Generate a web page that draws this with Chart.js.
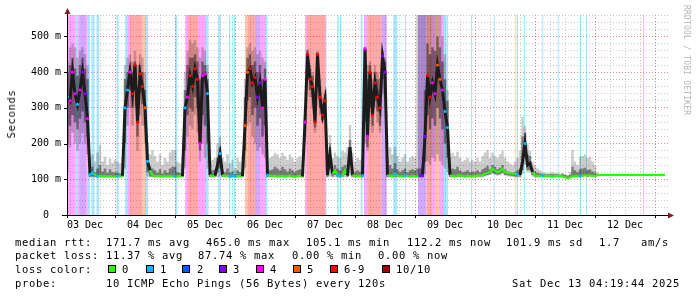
<!DOCTYPE html>
<html>
<head>
<meta charset="utf-8">
<script src="https://cdn.jsdelivr.net/npm/chart.js@4/dist/chart.umd.min.js"></script>
<style>
  html, body { margin: 0; padding: 0; background: #fff; }
  #wrap { position: relative; width: 697px; height: 297px; overflow: hidden; }
  #chart { position: absolute; left: 0; top: 0; }
  .t { position: absolute; font-family: 'DejaVu Sans Mono', monospace; font-size: 10.5px;
       letter-spacing: 0.68px; line-height: 12px; white-space: pre; color: #000; }
  .box { position: absolute; width: 6px; height: 6px; border: 1px solid #000; top: 265px; }
  #ylab { left: 11px; top: 114px; transform: translate(-50%, -50%) rotate(-90deg); }
  #mark { position: absolute; left: 681px; top: 5px; writing-mode: vertical-rl;
          font-family: 'DejaVu Sans Mono', monospace; font-size: 8px; letter-spacing: 0.2px;
          color: #b4b4b4; white-space: pre; line-height: 10px; }
</style>
</head>
<body>
<div id="wrap">
  <canvas id="chart" width="697" height="297"></canvas>
  <div class="t" id="ylab">Seconds</div>
  <div id="mark">RRDTOOL / TOBI OETIKER</div>

  <div class="t" style="left:15px;top:236px">median rtt:</div>
  <div class="t" style="left:106px;top:236px">171.7 ms avg</div>
  <div class="t" style="left:206px;top:236px">465.0 ms max</div>
  <div class="t" style="left:306px;top:236px">105.1 ms min</div>
  <div class="t" style="left:407px;top:236px">112.2 ms now</div>
  <div class="t" style="left:506px;top:236px">101.9 ms sd</div>
  <div class="t" style="left:599px;top:236px">1.7</div>
  <div class="t" style="left:641px;top:236px">am/s</div>

  <div class="t" style="left:15px;top:249px">packet loss:</div>
  <div class="t" style="left:106px;top:249px">11.37 % avg</div>
  <div class="t" style="left:198px;top:249px">87.74 % max</div>
  <div class="t" style="left:292px;top:249px">0.00 % min</div>
  <div class="t" style="left:378px;top:249px">0.00 % now</div>

  <div class="t" style="left:15px;top:263px">loss color:</div>
  <div class="box" style="left:108px;background:#26ff00"></div><div class="t" style="left:122px;top:263px">0</div>
  <div class="box" style="left:146px;background:#00b8ff"></div><div class="t" style="left:160px;top:263px">1</div>
  <div class="box" style="left:182px;background:#0059ff"></div><div class="t" style="left:197px;top:263px">2</div>
  <div class="box" style="left:219px;background:#7e00ff"></div><div class="t" style="left:233px;top:263px">3</div>
  <div class="box" style="left:256px;background:#ff00ff"></div><div class="t" style="left:270px;top:263px">4</div>
  <div class="box" style="left:293px;background:#ff5500"></div><div class="t" style="left:307px;top:263px">5</div>
  <div class="box" style="left:330px;background:#ff0000"></div><div class="t" style="left:344px;top:263px">6-9</div>
  <div class="box" style="left:382px;background:#a10000"></div><div class="t" style="left:396px;top:263px">10/10</div>

  <div class="t" style="left:15px;top:277px">probe:</div>
  <div class="t" style="left:106px;top:277px">10 ICMP Echo Pings (56 Bytes) every 120s</div>
  <div class="t" style="left:512px;top:277px">Sat Dec 13 04:19:44 2025</div>
</div>

<script>
// hours counted from 03 Dec 00:00, one sample per hour starting at 05:00
const firstHour = 5;

const dayLabels = ['03 Dec', '04 Dec', '05 Dec', '06 Dec', '07 Dec', '08 Dec', '09 Dec', '10 Dec', '11 Dec', '12 Dec'];

// median rtt (ms)
const median = [
  330,320,400,340,310,350,400,340,270,114,118,112,109,110,108,109,108,109,108,             // 03 Dec
  108,109,108,110,300,350,400,340,420,260,395,360,300,150,125,112,108,110,109,108,110,108,109,108, // 04
  109,108,110,109,300,330,390,360,410,380,200,390,395,340,112,109,110,140,172,112,110,109,108,110, // 05
  109,108,110,109,250,400,410,370,385,330,370,300,380,112,110,109,110,108,109,110,108,109,110,108, // 06
  108,109,110,108,260,450,380,360,260,450,330,280,320,112,170,115,125,112,109,110,125,110,190,112, // 07
  110,109,108,110,465,220,400,280,370,330,300,445,400,112,110,108,115,110,109,108,110,109,108,109, // 08
  109,108,110,110,220,390,330,370,340,420,380,350,290,245,112,109,108,110,112,109,108,110,109,108, // 09
  110,111,110,112,116,118,120,130,125,120,122,130,120,118,117,116,115,113,112,150,200,140,145,120, // 10
  112,110,109,110,109,110,109,108,109,110,109,108,106,104,105,108,109,110,109,110,112,110,111,110, // 11
  110,111,112,112,112,112,112,112,112,112,112,112,112,112,112,112,112,112,112,112,112,112,112,112, // 12
  112,112,112,112,112                                                                       // 13
];

// smoke: highest / lowest ping
const smokeMax = [
  430,470,480,470,440,460,470,450,420,160,170,150,175,196,150,163,140,158,146,
  154,150,145,160,420,440,450,430,460,420,450,440,400,200,170,182,165,150,170,140,160,150,175,182,
  182,150,145,160,400,460,490,480,490,470,440,470,460,420,150,155,160,200,219,160,150,170,145,155,
  130,160,150,165,380,470,480,460,470,450,460,440,430,150,160,165,174,170,160,174,165,155,170,160,
  150,160,165,155,300,465,420,400,330,460,380,330,350,140,224,160,175,165,160,180,175,190,252,175,
  150,160,155,165,470,420,430,380,420,400,380,460,440,160,190,170,191,165,150,160,170,150,160,165,
  160,600,600,600,600,600,600,600,600,600,600,500,450,350,160,174,165,177,160,150,155,160,150,155,
  150,160,150,165,175,182,160,175,165,160,170,180,160,150,145,140,150,160,180,275,250,200,180,150,
  140,130,125,120,118,117,118,120,118,117,116,118,115,112,120,182,150,140,163,165,170,160,163,150,
  140,120,112,112,112,112,112,112,112,112,112,112,112,112,112,112,112,112,112,112,112,112,112,112,
  112,112,112,112,112
];
const smokeMin = [
  120,190,230,200,180,200,230,200,170,105,106,105,105,105,104,105,105,105,105,
  105,105,105,105,130,250,300,250,300,180,280,250,200,108,105,105,105,105,105,105,105,105,105,105,
  105,105,105,105,130,220,250,240,280,230,150,200,160,130,105,105,105,106,108,105,105,105,105,105,
  105,105,105,105,130,250,260,220,200,180,190,170,160,105,105,105,105,105,105,105,105,105,105,105,
  105,105,105,105,200,380,330,300,230,380,280,260,270,105,108,105,106,105,105,105,106,105,110,105,
  105,105,105,105,200,180,300,230,300,260,230,340,300,105,105,105,106,105,105,105,105,105,105,105,
  105,105,105,105,115,150,140,160,150,170,150,140,130,120,105,105,105,105,105,105,105,105,105,105,
  105,105,105,106,108,110,112,115,112,110,112,115,110,108,107,106,105,105,105,115,140,120,120,108,
  106,105,105,105,105,105,105,104,105,105,105,104,103,101,102,105,105,106,105,106,108,106,107,106,
  106,108,112,112,112,112,112,112,112,112,112,112,112,112,112,112,112,112,112,112,112,112,112,112,
  112,112,112,112,112
];
// smoke: denser middle part
const smokeHi = [
  400,420,440,410,390,420,440,410,380,125,135,120,130,140,122,130,118,128,120,
  120,118,116,122,380,400,420,400,430,360,420,400,350,170,135,130,125,118,128,116,125,118,130,135,
  135,120,118,125,350,420,440,440,450,430,380,430,420,380,120,125,128,160,190,125,120,130,118,122,
  115,125,120,128,330,440,450,420,430,400,420,380,410,120,125,128,135,130,125,135,128,122,130,125,
  120,125,128,122,280,460,410,390,300,455,360,310,340,118,190,125,140,130,125,135,140,130,210,130,
  120,125,122,128,470,380,420,350,400,380,350,450,430,125,140,130,145,128,120,125,130,120,125,128,
  125,130,130,135,350,480,450,470,460,500,470,430,380,320,125,130,128,135,125,120,122,125,120,122,
  120,125,120,128,132,138,128,140,135,128,132,140,128,122,120,118,120,125,130,220,230,170,165,130,
  122,118,116,115,114,114,114,115,114,114,113,114,112,110,113,135,125,120,128,130,132,126,128,122,
  118,114,112,112,112,112,112,112,112,112,112,112,112,112,112,112,112,112,112,112,112,112,112,112,
  112,112,112,112,112
];
const smokeLo = [
  200,250,280,260,240,270,290,260,220,107,108,107,106,107,106,107,106,107,106,
  107,107,107,107,200,300,350,300,350,220,340,310,250,120,108,107,106,107,107,106,107,106,107,107,
  107,106,107,107,180,280,300,290,330,300,180,280,250,200,107,107,107,120,130,107,107,107,106,107,
  107,106,107,107,180,320,330,280,300,250,270,220,250,107,107,107,107,106,107,107,106,107,107,106,
  106,107,107,106,220,400,350,330,245,400,300,265,290,107,130,108,112,107,107,107,112,107,150,107,
  107,107,106,107,260,190,330,250,320,290,250,380,330,107,107,106,108,107,107,106,107,107,106,107,
  107,106,107,107,150,280,240,270,250,300,270,240,200,160,107,107,106,107,107,107,106,107,107,106,
  107,108,107,108,110,112,114,118,115,113,114,118,113,111,110,109,108,108,108,125,160,125,125,112,
  108,107,107,107,107,107,107,106,107,107,107,106,104,102,103,107,107,108,107,108,110,108,109,108,
  108,110,112,112,112,112,112,112,112,112,112,112,112,112,112,112,112,112,112,112,112,112,112,112,
  112,112,112,112,112
];

// packet loss periods (hours) and loss colour class
const lossStart = [4.6, 5.2, 8.0, 9.2, 10.0, 12.0, 13.0, 14.6, 16.6, 24.6,
  28.0, 29.0, 30.0, 35.0, 36.0, 48.0,
  52.0, 52.4, 53.2, 57.2, 60.0, 65.2, 69.6, 70.9, 71.6,
  76.0, 77.2, 80.0, 82.0, 84.0,
  100.0, 100.6, 108.0, 112.9, 114.0, 122.3,
  123.6, 125.2, 130.6, 135.3, 140.0,
  145.2, 148.6, 150.8, 152.0, 154.0, 155.6, 156.6,
  166.4, 175.5, 184.1, 184.8, 187.6, 194.9, 201.1, 210.0, 212.4, 235.2];
const lossEnd = [5.2, 8.0, 9.2, 10.0, 12.0, 13.0, 14.0, 15.8, 17.6, 25.4,
  29.0, 30.0, 35.0, 36.0, 37.2, 48.9,
  52.4, 53.2, 57.2, 60.0, 61.4, 66.2, 70.1, 71.3, 72.0,
  77.2, 80.0, 82.0, 84.0, 85.0,
  100.6, 108.0, 108.6, 113.5, 114.5, 123.0,
  125.2, 130.6, 132.7, 136.9, 140.4,
  148.6, 150.8, 152.0, 154.0, 155.6, 156.4, 157.2,
  166.8, 175.9, 184.5, 185.2, 188.0, 195.3, 201.5, 210.4, 212.8, 235.6];
const lossClass = [1, 4, 1, 4, 3, 4, 1, 1, 1, 1,
  1, 4, 6, 5, 1, 1,
  1, 4, 6, 4, 1, 1, 1, 1, 1,
  5, 6, 3, 4, 1,
  4, 6, 1, 1, 1, 1,
  4, 6, 3, 1, 1,
  3, 6, 4, 5, 4, 1, 1,
  1, 1, 1, 1, 1, 1, 1, 1, 1, 1];

const lossColors = ['#26ff00', '#00b8ff', '#0059ff', '#7e00ff', '#ff00ff', '#ff5500', '#ff0000', '#a10000'];

const hex2rgba = (h, a) => {
  const n = parseInt(h.slice(1), 16);
  return `rgba(${n >> 16},${(n >> 8) & 255},${n & 255},${a})`;
};

const lossAt = (h) => {
  for (let i = 0; i < lossStart.length; i++) {
    if (h >= lossStart[i] && h <= lossEnd[i]) return lossClass[i];
  }
  return 0;
};

const pts = (arr) => arr.map((v, i) => ({ x: firstHour + i, y: v }));

// one filled dataset per loss class, drawn full height on a hidden 0..1 axis
const bandSets = [1, 3, 4, 5, 6].map(c => {
  const data = [];
  lossStart.forEach((s, i) => {
    if (lossClass[i] !== c) return;
    data.push({ x: s, y: 0 }, { x: s, y: 1 }, { x: lossEnd[i], y: 1 }, { x: lossEnd[i], y: 0 });
  });
  return {
    data, yAxisID: 'y2', order: 4, fill: 'origin', borderWidth: 0, pointRadius: 0,
    backgroundColor: hex2rgba(lossColors[c], 0.34), tension: 0
  };
});

const medLoss = median.map((v, i) => lossAt(firstHour + i));

const axisPlugin = {
  id: 'rrdAxes',
  afterDatasetsDraw(chart) {
    const { ctx, chartArea: a, scales: { x, y } } = chart;
    ctx.save();
    ctx.strokeStyle = '#000';
    ctx.lineWidth = 1;
    ctx.beginPath();
    x.ticks.forEach(t => {
      if (t.value % 24 === 0) {
        const px = Math.round(x.getPixelForValue(t.value)) + 0.5;
        ctx.moveTo(px, a.bottom); ctx.lineTo(px, a.bottom + 3);
      }
    });
    y.ticks.forEach(t => {
      if (t.value % 100 === 0) {
        const py = Math.round(y.getPixelForValue(t.value)) + 0.5;
        ctx.moveTo(a.left - 3, py); ctx.lineTo(a.left, py);
      }
    });
    ctx.moveTo(a.left - 5, a.bottom + 0.5); ctx.lineTo(a.right + 2, a.bottom + 0.5);
    ctx.moveTo(a.left + 0.5, a.bottom + 3); ctx.lineTo(a.left + 0.5, a.top - 4);
    ctx.stroke();
    ctx.fillStyle = '#7f1f1f';
    ctx.beginPath();
    ctx.moveTo(a.right + 6, a.bottom + 0.5); ctx.lineTo(a.right, a.bottom - 2.5); ctx.lineTo(a.right, a.bottom + 3.5);
    ctx.fill();
    ctx.beginPath();
    ctx.moveTo(a.left + 0.5, a.top - 7); ctx.lineTo(a.left - 2.5, a.top - 1); ctx.lineTo(a.left + 3.5, a.top - 1);
    ctx.fill();
    ctx.restore();
  }
};

const gridMajor = 'rgba(225,90,90,0.75)';
const gridMinor = 'rgba(165,165,165,0.6)';
const tickFont = { family: "'DejaVu Sans Mono', monospace", size: 10 };

new Chart(document.getElementById('chart'), {
  type: 'line',
  data: {
    datasets: [
      {
        data: pts(median), order: 0, fill: false, tension: 0,
        borderColor: '#26ff00', borderWidth: 2,
        pointRadius: (c) => (medLoss[c.dataIndex] > 0 ? 1.6 : 0),
        pointBackgroundColor: (c) => lossColors[medLoss[c.dataIndex]],
        pointBorderWidth: 0,
        segment: {
          borderColor: (s) => (Math.max(s.p0.parsed.y, s.p1.parsed.y) > 135 ? '#1c1c1c' : '#26ff00'),
          borderWidth: (s) => (Math.max(s.p0.parsed.y, s.p1.parsed.y) > 135 ? 3 : 2)
        }
      },
      { data: pts(smokeHi), order: 1, fill: '+1', stepped: 'middle', borderWidth: 0, pointRadius: 0,
        backgroundColor: 'rgba(0,0,0,0.4)' },
      { data: pts(smokeLo), order: 1, fill: false, stepped: 'middle', borderWidth: 0, pointRadius: 0 },
      { data: pts(smokeMax), order: 2, fill: '+1', stepped: 'middle', borderWidth: 0, pointRadius: 0,
        backgroundColor: 'rgba(0,0,0,0.2)' },
      { data: pts(smokeMin), order: 2, fill: false, stepped: 'middle', borderWidth: 0, pointRadius: 0 },
      ...bandSets
    ]
  },
  options: {
    responsive: false,
    devicePixelRatio: 1,
    animation: false,
    layout: { padding: { left: 0, top: 15, right: 29, bottom: 0 } },
    plugins: { legend: { display: false }, tooltip: { enabled: false } },
    scales: {
      x: {
        type: 'linear', min: 4.8, max: 245.2,
        afterFit: (s) => { s.height = 82; },
        afterBuildTicks: (s) => {
          const t = [];
          for (let h = 6; h <= 240; h += 6) t.push({ value: h });
          s.ticks = t;
        },
        border: { display: false, dash: [1, 2] },
        grid: {
          drawTicks: false,
          color: (c) => (c.tick && c.tick.value % 24 === 0 ? gridMajor : gridMinor)
        },
        ticks: {
          autoSkip: false, maxRotation: 0, padding: 4, color: '#000', font: tickFont,
          callback: (v) => (v % 24 === 12 ? dayLabels[(v - 12) / 24] : '')
        }
      },
      y: {
        type: 'linear', min: 0, max: 560,
        afterFit: (s) => { s.width = 67; },
        afterBuildTicks: (s) => {
          const t = [];
          for (let v = 0; v <= 560; v += 20) t.push({ value: v });
          s.ticks = t;
        },
        border: { display: false, dash: [1, 2] },
        grid: {
          drawTicks: false,
          color: (c) => (c.tick && c.tick.value % 100 === 0 ? gridMajor : gridMinor)
        },
        ticks: {
          autoSkip: false, padding: 6, color: '#000', font: tickFont,
          callback: (v) => (v === 0 ? '0  ' : (v % 100 === 0 ? v + ' m' : ''))
        }
      },
      y2: { type: 'linear', min: 0, max: 1, display: false }
    }
  },
  plugins: [axisPlugin]
});
</script>
</body>
</html>
